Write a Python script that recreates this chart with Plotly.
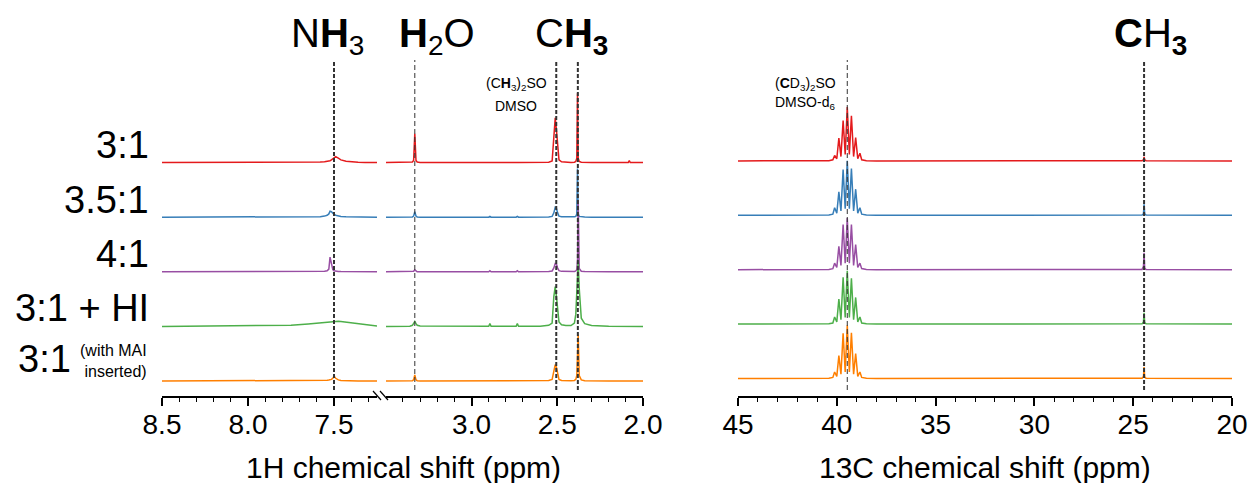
import plotly.graph_objects as go

W, H = 1252, 483
PLOT_BOTTOM_PX = 396

# ---------------- data ----------------
SAMPLE_LABELS = ["3:1", "3.5:1", "4:1", "3:1 + HI", "3:1"]
COLORS = ["#e41a1c", "#377eb8", "#984ea3", "#4daf4a", "#ff7f00"]
OFFSETS = [4, 3, 2, 1, 0]

# 1H spectrum, low-field window (8.5 - 7.25 ppm)
H1_LEFT_PPM = [8.50, 8.20, 8.00, 7.85, 7.75, 7.65, 7.58, 7.555, 7.54, 7.53, 7.523, 7.515,
               7.507, 7.50, 7.49, 7.475, 7.46, 7.43, 7.40, 7.36, 7.32, 7.29, 7.25]
H1_LEFT_RED = [0, 0, 0, 0, 0.002, 0.005, 0.01, 0.015, 0.02, 0.027, 0.035, 0.05,
               0.07, 0.09, 0.11, 0.08, 0.05, 0.025, 0.015, 0.008, 0.004, 0.002, 0]
H1_LEFT_BLUE = [0, 0, 0, 0, 0, 0.003, 0.01, 0.02, 0.035, 0.06, 0.11, 0.10,
                0.07, 0.05, 0.035, 0.02, 0.012, 0.006, 0.004, 0.002, 0.001, 0, 0]
H1_LEFT_PURPLE = [0, 0, 0, 0, 0, 0.002, 0.005, 0.01, 0.02, 0.05, 0.27, 0.12,
                  0.04, 0.02, 0.012, 0.006, 0.004, 0.002, 0.001, 0, 0, 0, 0]
H1_LEFT_GREEN = [0, 0.004, 0.01, 0.016, 0.022, 0.045, 0.068, 0.075, 0.08, 0.085, 0.088, 0.091,
                 0.094, 0.096, 0.097, 0.093, 0.088, 0.075, 0.06, 0.042, 0.025, 0.012, 0.005]
H1_LEFT_ORANGE = [0, 0, 0, 0, 0, 0.002, 0.005, 0.008, 0.012, 0.017, 0.022, 0.03,
                  0.05, 0.09, 0.05, 0.02, 0.01, 0.005, 0.003, 0.002, 0.001, 0, 0]

# 1H spectrum, high-field window (3.5 - 2.0 ppm)
H1_RIGHT_PPM = [3.50, 3.36, 3.345, 3.338, 3.331, 3.324, 3.317, 3.30, 3.20, 2.90,
                2.893, 2.886, 2.74, 2.733, 2.726, 2.60, 2.55, 2.53, 2.52, 2.512,
                2.505, 2.498, 2.49, 2.475, 2.45, 2.42, 2.40, 2.392, 2.386, 2.382,
                2.378, 2.372, 2.36, 2.34, 2.30, 2.20, 2.086, 2.08, 2.074, 2.00]
H1_RIGHT_RED = [0, 0, 0.01, 0.04, 0.53, 0.04, 0.01, 0.003, 0, 0,
                0, 0, 0, 0, 0, 0.002, 0.008, 0.03, 0.45, 0.82,
                0.6, 0.3, 0.05, 0.015, 0.006, 0.004, 0.008, 0.02, 0.08, 1.27,
                0.08, 0.02, 0.006, 0.003, 0.001, 0, 0, 0.035, 0, 0]
H1_RIGHT_BLUE = [0, 0, 0.005, 0.02, 0.10, 0.02, 0.005, 0, 0, 0,
                 0.015, 0, 0, 0.015, 0, 0, 0.004, 0.015, 0.08, 0.18,
                 0.16, 0.08, 0.02, 0.008, 0.003, 0.003, 0.006, 0.015, 0.06, 0.89,
                 0.06, 0.015, 0.005, 0.002, 0, 0, 0, 0, 0, 0]
H1_RIGHT_PURPLE = [0, 0, 0, 0.01, 0.035, 0.01, 0, 0, 0, 0,
                   0.02, 0, 0, 0.02, 0, 0, 0.004, 0.015, 0.07, 0.15,
                   0.14, 0.07, 0.02, 0.008, 0.003, 0.003, 0.006, 0.015, 0.04, 0.2,
                   1.31, 0.06, 0.01, 0.004, 0.001, 0, 0, 0, 0, 0]
H1_RIGHT_GREEN = [0, 0.005, 0.02, 0.05, 0.09, 0.05, 0.02, 0.006, 0.002, 0.002,
                  0.05, 0.002, 0.002, 0.05, 0.002, 0.005, 0.02, 0.06, 0.55, 0.73,
                  0.55, 0.35, 0.08, 0.03, 0.015, 0.015, 0.06, 0.22, 0.55, 0.95,
                  1.19, 0.7, 0.15, 0.05, 0.015, 0.005, 0, 0, 0, 0]
H1_RIGHT_ORANGE = [0, 0, 0.005, 0.02, 0.11, 0.02, 0.005, 0, 0, 0,
                   0, 0, 0, 0, 0, 0.002, 0.008, 0.03, 0.2, 0.3,
                   0.25, 0.12, 0.03, 0.01, 0.005, 0.004, 0.01, 0.03, 0.1, 0.4,
                   0.85, 0.1, 0.02, 0.006, 0.002, 0, 0, 0, 0, 0]

# 13C spectrum (45 - 20 ppm)
C13_PPM = [45.0, 41.0, 40.4, 40.2, 40.11, 40.00, 39.895, 39.79, 39.68, 39.575,
           39.47, 39.365, 39.26, 39.15, 39.045, 38.94, 38.83, 38.74, 38.5, 38.0,
           25.0, 24.55, 24.48, 24.45, 24.42, 24.35, 20.0]
C13_RED = [0, 0, 0.005, 0.02, 0.10, 0.04, 0.42, 0.08, 0.74, 0.12,
           0.99, 0.12, 0.83, 0.08, 0.43, 0.04, 0.14, 0.02, 0.005, 0,
           0, 0.005, 0.02, 0.075, 0.02, 0.005, 0]
C13_BLUE = [0, 0, 0.005, 0.02, 0.14, 0.04, 0.43, 0.08, 0.84, 0.12,
            1.0, 0.12, 0.86, 0.08, 0.48, 0.04, 0.14, 0.02, 0.005, 0,
            0, 0.005, 0.03, 0.2, 0.03, 0.005, 0]
C13_PURPLE = [0, 0, 0.005, 0.02, 0.12, 0.04, 0.43, 0.08, 0.83, 0.12,
              0.95, 0.12, 0.83, 0.08, 0.46, 0.04, 0.12, 0.02, 0.005, 0,
              0, 0.005, 0.06, 0.31, 0.03, 0.005, 0]
C13_GREEN = [0, 0, 0.005, 0.02, 0.13, 0.04, 0.46, 0.08, 0.86, 0.12,
             0.98, 0.12, 0.84, 0.08, 0.49, 0.04, 0.13, 0.02, 0.005, 0,
             0, 0.005, 0.04, 0.21, 0.03, 0.005, 0]
C13_ORANGE = [0, 0, 0.005, 0.02, 0.12, 0.04, 0.42, 0.08, 0.83, 0.12,
              0.98, 0.12, 0.84, 0.08, 0.46, 0.04, 0.12, 0.02, 0.005, 0,
              0, 0.005, 0.04, 0.21, 0.03, 0.005, 0]

# reference (dashed) lines: ppm positions
H1_REF_PPM = [7.50, 3.331, 2.506, 2.380]
H1_REF_AXIS = ["x", "x2", "x2", "x2"]
H1_REF_BOLD = [True, False, True, True]
C13_REF_PPM = [39.47, 24.45]
C13_REF_BOLD = [False, True]

# tick labels
H1_LEFT_TICKS = [8.5, 8.0, 7.5]
H1_RIGHT_TICKS = [3.0, 2.5, 2.0]
C13_TICKS = [45, 40, 35, 30, 25, 20]
H1_LEFT_MINOR = [8.4, 8.3, 8.2, 8.1, 7.9, 7.8, 7.7, 7.6, 7.4, 7.3]
H1_RIGHT_MINOR = [3.4, 3.3, 3.2, 3.1, 2.9, 2.8, 2.7, 2.6, 2.4, 2.3, 2.2, 2.1]
C13_MINOR = [44, 43, 42, 41, 39, 38, 37, 36, 34, 33, 32, 31, 29, 28, 27, 26, 24, 23, 22, 21]

H1_LEFT_SERIES = [H1_LEFT_RED, H1_LEFT_BLUE, H1_LEFT_PURPLE, H1_LEFT_GREEN, H1_LEFT_ORANGE]
H1_RIGHT_SERIES = [H1_RIGHT_RED, H1_RIGHT_BLUE, H1_RIGHT_PURPLE, H1_RIGHT_GREEN, H1_RIGHT_ORANGE]
C13_SERIES = [C13_RED, C13_BLUE, C13_PURPLE, C13_GREEN, C13_ORANGE]

FONT = "Liberation Sans, Arial, sans-serif"


def px(x):
    return x / W


def py(y):
    return 1 - y / PLOT_BOTTOM_PX


fig = go.Figure()
for i in range(5):
    off = OFFSETS[i]
    style = dict(color=COLORS[i], width=1.5)
    fig.add_trace(go.Scatter(x=H1_LEFT_PPM, y=[v + off for v in H1_LEFT_SERIES[i]],
                             xaxis="x", yaxis="y", mode="lines", line=style,
                             hoverinfo="skip", showlegend=False))
    fig.add_trace(go.Scatter(x=H1_RIGHT_PPM, y=[v + off for v in H1_RIGHT_SERIES[i]],
                             xaxis="x2", yaxis="y", mode="lines", line=style,
                             hoverinfo="skip", showlegend=False))
    fig.add_trace(go.Scatter(x=C13_PPM, y=[v + off for v in C13_SERIES[i]],
                             xaxis="x3", yaxis="y2", mode="lines", line=style,
                             hoverinfo="skip", showlegend=False))

# dashed reference lines
def ref_line(xv, xref, bold):
    return dict(type="line", xref=xref, yref="paper", x0=xv, x1=xv,
                y0=py(390), y1=py(60),
                line=dict(color="#333333", width=2 if bold else 1,
                          dash="4px,2px" if bold else "5px,3px"))

shapes = []
for xv, ax, b in zip(H1_REF_PPM, H1_REF_AXIS, H1_REF_BOLD):
    shapes.append(ref_line(xv, ax, b))
for xv, b in zip(C13_REF_PPM, C13_REF_BOLD):
    shapes.append(ref_line(xv, "x3", b))

# axis break marks
for x0 in (373, 380):
    shapes.append(dict(type="line", xref="paper", yref="paper",
                       x0=px(x0), x1=px(x0 + 8), y0=py(391), y1=py(400),
                       line=dict(color="black", width=1.2)))

axis_common = dict(showline=True, linecolor="black", linewidth=1.5,
                   ticks="outside", ticklen=8, tickwidth=1.5, tickcolor="black",
                   showgrid=False, zeroline=False, automargin=False,
                   ticklabelstandoff=-5,
                   tickfont=dict(family=FONT, size=28, color="black"))

def xaxis(domain, rng, ticks, minor, anchor, fmt):
    d = dict(axis_common)
    d.update(domain=[px(domain[0]), px(domain[1])], range=rng, anchor=anchor,
             tickmode="array", tickvals=ticks,
             ticktext=[fmt.format(t) for t in ticks],
             minor=dict(tickmode="array", tickvals=minor, ticks="outside",
                        ticklen=4, tickwidth=1, tickcolor="black", showgrid=False))
    return d

annotations = []

def ann(text, x, y, size, xanchor="center", align="center"):
    annotations.append(dict(text=text, x=px(x), y=py(y), xref="paper", yref="paper",
                            xanchor=xanchor, yanchor="middle", align=align,
                            showarrow=False,
                            font=dict(family=FONT, size=size, color="black")))

# sample labels
label_y = [145, 200, 254, 308, 359]
for i, lab in enumerate(SAMPLE_LABELS):
    if i < 4:
        ann(lab, 151, label_y[i], 38, xanchor="right")
    else:
        ann(lab, 73, label_y[i], 38, xanchor="right")
ann("(with MAI<br>inserted)", 149, 361, 16, xanchor="right", align="right")

# group headers
ann("N<b>H</b><sub>3</sub>", 327, 36, 40)
ann("<b>H</b><sub>2</sub>O", 437, 36, 40)
ann("C<b>H<sub>3</sub></b>", 571, 36, 40)
ann("<b>C</b>H<sub><b>3</b></sub>", 1150, 36, 40)
ann("(C<b>H</b><sub>3</sub>)<sub>2</sub>SO", 516, 84, 14)
ann("DMSO", 516, 106, 14)
ann("(<b>C</b>D<sub>3</sub>)<sub>2</sub>SO", 805, 84, 14)
ann("DMSO-d<sub>6</sub>", 805, 103, 14)

# axis titles
ann("1H chemical shift (ppm)", 403, 467, 30)
ann("13C chemical shift (ppm)", 985, 467, 30)

fig.update_layout(
    width=W, height=H,
    margin=dict(l=0, r=0, t=0, b=H - PLOT_BOTTOM_PX, pad=0, autoexpand=False),
    paper_bgcolor="white", plot_bgcolor="white",
    hovermode=False,
    xaxis=xaxis((162, 377), [8.5, 7.25], H1_LEFT_TICKS, H1_LEFT_MINOR, "y", "{:.1f}"),
    xaxis2=xaxis((386, 643), [3.499, 2.0], H1_RIGHT_TICKS, H1_RIGHT_MINOR, "y", "{:.1f}"),
    xaxis3=xaxis((738, 1232), [45, 20], C13_TICKS, C13_MINOR, "y2", "{:d}"),
    yaxis=dict(domain=[0, 1], range=[(381 - 396) / 54.6, 381 / 54.6], visible=False),
    yaxis2=dict(domain=[0, 1], range=[(378.5 - 396) / 54.4, 378.5 / 54.4],
                visible=False, overlaying="y", anchor="x3"),
    shapes=shapes,
    annotations=annotations,
)

fig.write_html("out.html")
